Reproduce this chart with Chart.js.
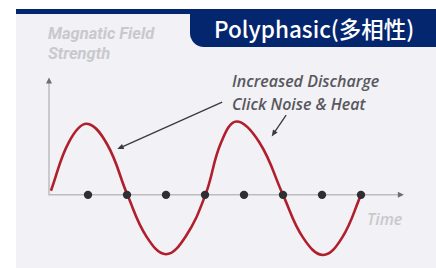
<!DOCTYPE html>
<html>
<head>
<meta charset="utf-8">
<script src="https://cdn.jsdelivr.net/npm/chart.js@4"></script>
<style>
  html, body { margin: 0; padding: 0; background: #fff; }
  #wrap { position: relative; width: 436px; height: 268px; overflow: hidden; }
  #panel { position: absolute; left: 16px; top: 9px; right: 0; bottom: 0; background: #f1f1f6; border-top: 5px solid #04266e; }
  #title { position: absolute; left: 190px; top: 13px; width: 246px; height: 34px; background: #04266e;
           border-bottom-left-radius: 14px; color: #fff; font: 500 22.5px "Noto Sans CJK SC", "Noto Sans", sans-serif;
           line-height: 31px; padding-left: 24px; box-sizing: border-box; white-space: nowrap; }
  .lbl { position: absolute; white-space: nowrap; }
  #ylab { left: 48px; top: 24px; font: italic 700 16.5px Roboto, sans-serif; color: #c9c9cc; line-height: 20px; }
  #xlab { left: 367px; top: 208px; font: italic 600 16px "Open Sans", sans-serif; color: #c9c9cc; }
  #note { left: 232px; top: 70px; font: italic 600 16px "Open Sans", sans-serif; color: #58585c; line-height: 23px; }
  canvas { position: absolute; left: 0; top: 0; }
</style>
</head>
<body>
<div id="wrap">
  <div id="panel"></div>
  <div id="title">Polyphasic(多相性)</div>
  <div class="lbl" id="ylab">Magnatic Field<br>Strength</div>
  <div class="lbl" id="xlab">Time</div>
  <div class="lbl" id="note">Increased Discharge<br>Click Noise &amp; Heat</div>
  <canvas id="chart" width="436" height="268"></canvas>
</div>
<script>
// field strength curve (time units = dot spacing)
const waveTime  = [0.05, 0.51, 0.97, 1.49, 2.01, 2.5, 3.0, 3.5, 4.01, 4.41, 4.81, 5.4, 6.0, 6.51, 7.03, 7.52, 8.0];
const waveField = [0.056, 0.72, 0.97, 0.69, 0, -0.57, -0.81, -0.57, 0, 0.71, 1.0, 0.71, 0, -0.58, -0.82, -0.58, 0];
// discharge points on the time axis
const dotTime  = [1, 2, 3, 4, 5, 6, 7, 8];
const dotField = [0, 0, 0, 0, 0, 0, 0, 0];

const axisPlugin = {
    id: 'axisArrows',
    beforeDatasetsDraw(chart) {
        const ctx = chart.ctx;
        const x = chart.scales.x, y = chart.scales.y;
        const x0 = x.getPixelForValue(0), y0 = y.getPixelForValue(0);
        const xEnd = x.getPixelForValue(9.1), yTop = y.getPixelForValue(1.6);
        ctx.save();
        ctx.strokeStyle = '#bdbdc0';
        ctx.lineWidth = 1.5;
        ctx.beginPath();
        ctx.moveTo(x0, yTop + 3);
        ctx.lineTo(x0, y0);
        ctx.lineTo(xEnd - 4, y0);
        ctx.stroke();
        ctx.fillStyle = '#6e6e72';
        ctx.beginPath();
        ctx.moveTo(xEnd, y0);
        ctx.lineTo(xEnd - 6, y0 - 3);
        ctx.lineTo(xEnd - 6, y0 + 3);
        ctx.fill();
        ctx.beginPath();
        ctx.moveTo(x0, yTop);
        ctx.lineTo(x0 - 3, yTop + 6);
        ctx.lineTo(x0 + 3, yTop + 6);
        ctx.fill();
        ctx.restore();
    },
    afterDatasetsDraw(chart) {
        const ctx = chart.ctx;
        const x = chart.scales.x, y = chart.scales.y;
        const arrows = [[4.44, 1.264, 1.75, 0.624], [6.08, 1.087, 5.71, 0.797]];
        ctx.save();
        ctx.strokeStyle = '#3a3a3e';
        ctx.fillStyle = '#3a3a3e';
        ctx.lineWidth = 1.3;
        arrows.forEach(a => {
            const sx = x.getPixelForValue(a[0]), sy = y.getPixelForValue(a[1]);
            const ex = x.getPixelForValue(a[2]), ey = y.getPixelForValue(a[3]);
            const ang = Math.atan2(ey - sy, ex - sx);
            ctx.beginPath();
            ctx.moveTo(sx, sy);
            ctx.lineTo(ex - 3 * Math.cos(ang), ey - 3 * Math.sin(ang));
            ctx.stroke();
            ctx.beginPath();
            ctx.moveTo(ex, ey);
            ctx.lineTo(ex - 7 * Math.cos(ang - 0.4), ey - 7 * Math.sin(ang - 0.4));
            ctx.lineTo(ex - 7 * Math.cos(ang + 0.4), ey - 7 * Math.sin(ang + 0.4));
            ctx.closePath();
            ctx.fill();
        });
        ctx.restore();
    }
};

new Chart(document.getElementById('chart'), {
    type: 'line',
    data: {
        datasets: [
            {
                label: 'Magnetic field',
                data: waveTime.map((t, i) => ({ x: t, y: waveField[i] })),
                borderColor: '#b01f2b',
                borderWidth: 2.6,
                pointRadius: 0,
                tension: 0.4,
                fill: false,
                clip: false,
                order: 2
            },
            {
                label: 'Discharge',
                data: dotTime.map((t, i) => ({ x: t, y: dotField[i] })),
                showLine: false,
                pointRadius: 4.2,
                pointBackgroundColor: '#2f2f33',
                pointBorderWidth: 0,
                clip: false,
                order: 1
            }
        ]
    },
    plugins: [axisPlugin],
    options: {
        responsive: false,
        animation: false,
        events: [],
        layout: { padding: { left: 49, right: 32.1, top: 77.5, bottom: 0 } },
        plugins: { legend: { display: false }, tooltip: { enabled: false } },
        scales: {
            x: { type: 'linear', min: 0, max: 9.1, display: false },
            y: { min: -0.94, max: 1.6, display: false }
        }
    }
});
</script>
</body>
</html>
